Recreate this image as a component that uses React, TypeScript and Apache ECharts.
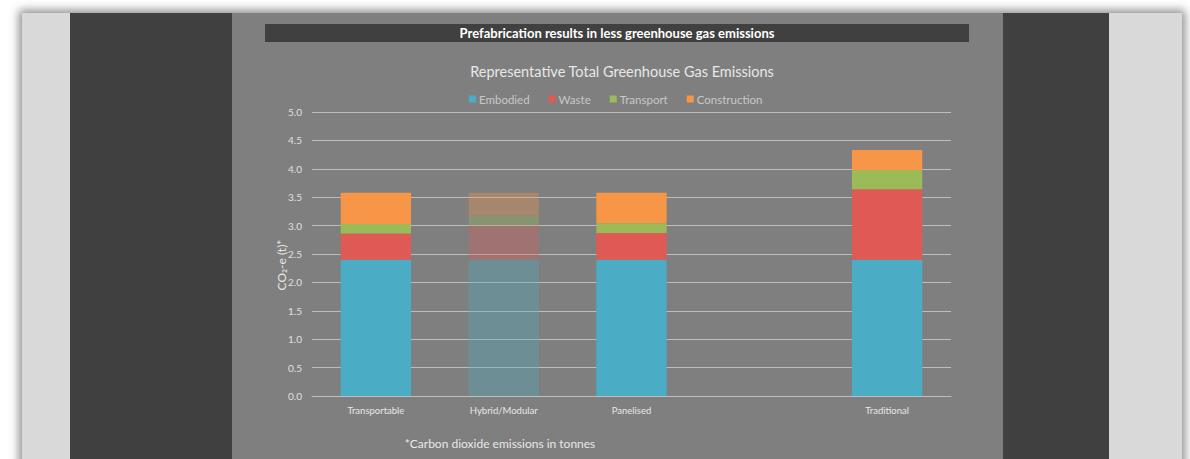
import React, { useEffect, useRef } from "react";
import * as echarts from "echarts";

const categories = ["Transportable", "Hybrid/Modular", "Panelised", "", "Traditional"];
const embodied = [2.4, 2.4, 2.4, null, 2.4];
const waste = [0.46, 0.6, 0.47, null, 1.24];
const transport = [0.17, 0.18, 0.17, null, 0.34];
const construction = [0.55, 0.4, 0.54, null, 0.35];
const seriesNames = ["Embodied", "Waste", "Transport", "Construction"];
const seriesColors = ["#4bacc6", "#e05a55", "#9bbb59", "#f79646"];
const fadedCategory = "Hybrid/Modular";

const FONT = "Lato, 'Open Sans', sans-serif";

export default function App() {
  const ref = useRef<HTMLDivElement>(null);
  useEffect(() => {
    document.body.style.margin = "0";
    const chart = echarts.init(ref.current!, null, { renderer: "svg" });
    const allData = [embodied, waste, transport, construction];
    chart.setOption({
      animation: false,
      backgroundColor: "transparent",
      textStyle: { fontFamily: FONT },
      title: {
        text: "Representative Total Greenhouse Gas Emissions",
        left: 617,
        textAlign: "center",
        top: 59,
        textStyle: { color: "#e8e8e8", fontSize: 14.5, fontWeight: "normal", fontFamily: FONT },
      },
      legend: {
        top: 88,
        left: 464,
        itemWidth: 7,
        itemHeight: 7,
        itemGap: 19,
        icon: "rect",
        textStyle: { color: "#c8c8c8", fontSize: 11.5, padding: [0, 0, 0, -2] },
        data: seriesNames,
      },
      grid: { left: 312, right: 239, top: 112, bottom: 63 },
      xAxis: {
        type: "category",
        data: categories,
        axisTick: { show: false },
        axisLine: { lineStyle: { color: "#bdbdbd", width: 1 } },
        axisLabel: { color: "#e8e8e8", fontSize: 9.5, margin: 9, interval: 0 },
      },
      yAxis: {
        type: "value",
        min: 0,
        max: 5,
        interval: 0.5,
        axisLabel: {
          color: "#e0e0e0",
          fontSize: 10,
          margin: 10,
          formatter: (v: number) => v.toFixed(1),
        },
        splitLine: { lineStyle: { color: "#bdbdbd", width: 1 } },
        axisLine: { show: false },
        axisTick: { show: false },
      },
      series: seriesNames.map((name, si) => ({
        name,
        type: "bar",
        stack: "total",
        barWidth: "55%",
        itemStyle: { color: seriesColors[si] },
        data: allData[si].map((v, ci) =>
          v === null
            ? "-"
            : categories[ci] === fadedCategory
            ? { value: v, itemStyle: { opacity: 0.33 } }
            : v
        ),
      })),
      graphic: [
        {
          type: "rect",
          shape: { x: 265, y: 24, width: 704, height: 18 },
          style: { fill: "#404040" },
          z: -1,
        },
        {
          type: "text",
          x: 617,
          y: 33,
          style: {
            text: "Prefabrication results in less greenhouse gas emissions",
            fill: "#ffffff",
            font: "bold 13px " + FONT,
            textAlign: "center",
            textVerticalAlign: "middle",
          },
        },
        {
          type: "text",
          x: 281,
          y: 265,
          rotation: Math.PI / 2,
          style: {
            text: "CO\u2082-e (t)*",
            fill: "#e8e8e8",
            font: "12px " + FONT,
            textAlign: "center",
            textVerticalAlign: "middle",
          },
        },
        {
          type: "text",
          x: 500,
          y: 443,
          style: {
            text: "*Carbon dioxide emissions in tonnes",
            fill: "#e8e8e8",
            font: "12px " + FONT,
            textAlign: "center",
            textVerticalAlign: "middle",
          },
        },
      ],
    });
    return () => chart.dispose();
  }, []);

  return (
    <div style={{ position: "fixed", left: 0, top: 0, width: 1190, height: 459, background: "#ffffff", overflow: "hidden" }}>
      <div
        style={{
          position: "absolute",
          left: 22,
          top: 13,
          width: 1160,
          height: 460,
          background: "#d9d9d9",
          boxShadow: "0 0 9px 3px rgba(0,0,0,0.45)",
        }}
      />
      <div style={{ position: "absolute", left: 70, top: 13, width: 162, height: 460, background: "#404040" }} />
      <div style={{ position: "absolute", left: 1003, top: 13, width: 106, height: 460, background: "#404040" }} />
      <div style={{ position: "absolute", left: 232, top: 13, width: 771, height: 460, background: "#7f7f7f" }} />
      <div ref={ref} style={{ position: "absolute", left: 0, top: 0, width: 1190, height: 459 }} />
    </div>
  );
}
